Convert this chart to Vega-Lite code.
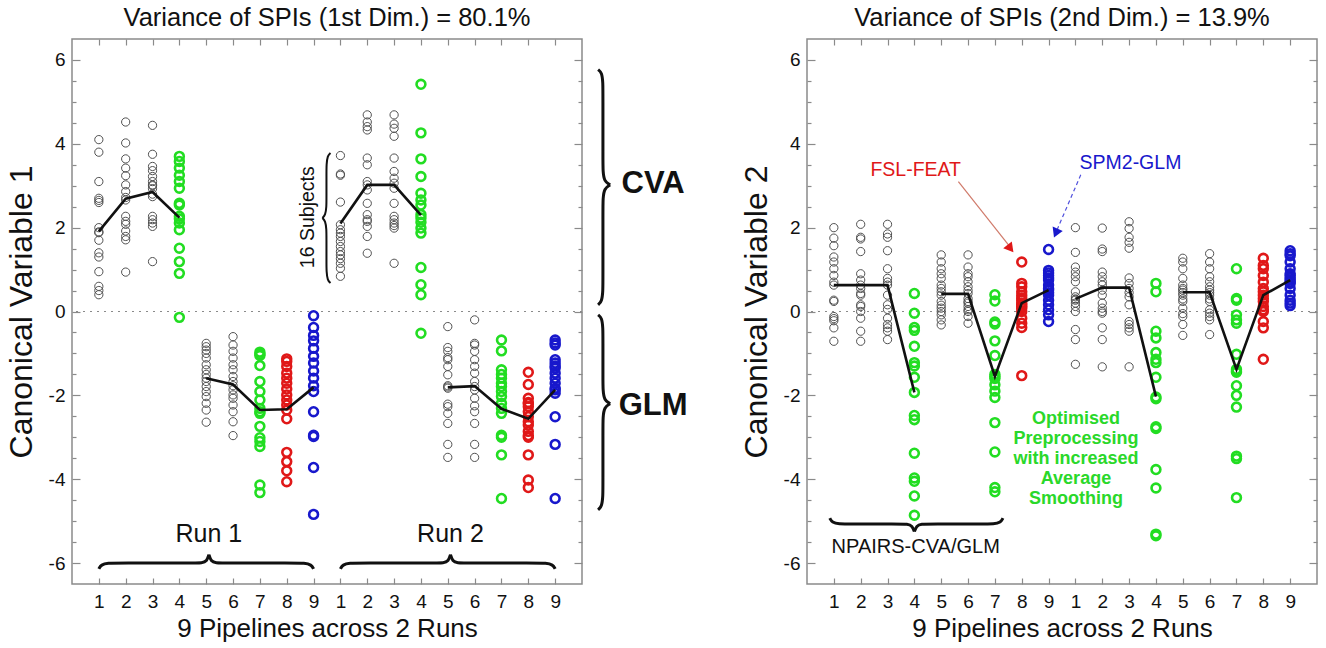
{
"$schema": "https://vega.github.io/schema/vega-lite/v6.json",
"background": "white",
"padding": {"left": 4, "right": 0, "top": 5, "bottom": 0},
"bounds": "flush",
"spacing": 225,
"config": {
  "font": "Liberation Sans",
  "view": {"stroke": "#8a8a8a", "strokeWidth": 1.5},
  "axis": {"labelFont": "Liberation Sans", "titleFont": "Liberation Sans", "labelColor": "#111", "titleColor": "#111", "tickColor": "#8a8a8a", "tickWidth": 1.2, "domain": false, "grid": false, "labelOverlap": false, "titleFontWeight": "normal"},
  "title": {"font": "Liberation Sans", "fontSize": 25.5, "fontWeight": "normal", "color": "#111", "offset": 7, "frame": "group", "anchor": "middle"}
},
"datasets": {
  "p1": [
    {"x":1,"y":4.1},{"x":1,"y":3.8},{"x":1,"y":3.1},{"x":1,"y":2.7},{"x":1,"y":2.65},{"x":1,"y":2.6},{"x":1,"y":2.0},{"x":1,"y":1.9},{"x":1,"y":1.88},{"x":1,"y":1.7},{"x":1,"y":1.4},{"x":1,"y":1.3},{"x":1,"y":0.95},{"x":1,"y":0.6},{"x":1,"y":0.5},{"x":1,"y":0.4},
    {"x":2,"y":4.52},{"x":2,"y":4.02},{"x":2,"y":3.64},{"x":2,"y":3.42},{"x":2,"y":3.24},{"x":2,"y":3.02},{"x":2,"y":2.86},{"x":2,"y":2.72},{"x":2,"y":2.66},{"x":2,"y":2.27},{"x":2,"y":2.15},{"x":2,"y":2.08},{"x":2,"y":1.92},{"x":2,"y":1.79},{"x":2,"y":1.71},{"x":2,"y":0.94},
    {"x":3,"y":4.44},{"x":3,"y":3.75},{"x":3,"y":3.46},{"x":3,"y":3.36},{"x":3,"y":3.22},{"x":3,"y":3.1},{"x":3,"y":3.02},{"x":3,"y":3.0},{"x":3,"y":2.93},{"x":3,"y":2.8},{"x":3,"y":2.74},{"x":3,"y":2.27},{"x":3,"y":2.19},{"x":3,"y":2.11},{"x":3,"y":2.03},{"x":3,"y":1.19},
    {"x":4,"y":3.7},{"x":4,"y":3.58},{"x":4,"y":3.42},{"x":4,"y":3.25},{"x":4,"y":3.1},{"x":4,"y":2.94},{"x":4,"y":2.58},{"x":4,"y":2.54},{"x":4,"y":2.27},{"x":4,"y":2.21},{"x":4,"y":2.11},{"x":4,"y":1.95},{"x":4,"y":1.51},{"x":4,"y":1.19},{"x":4,"y":0.91},{"x":4,"y":-0.14},
    {"x":5,"y":-0.76},{"x":5,"y":-0.84},{"x":5,"y":-0.92},{"x":5,"y":-1.0},{"x":5,"y":-1.11},{"x":5,"y":-1.27},{"x":5,"y":-1.39},{"x":5,"y":-1.5},{"x":5,"y":-1.59},{"x":5,"y":-1.67},{"x":5,"y":-1.79},{"x":5,"y":-1.91},{"x":5,"y":-2.03},{"x":5,"y":-2.19},{"x":5,"y":-2.35},{"x":5,"y":-2.64},
    {"x":6,"y":-0.6},{"x":6,"y":-0.8},{"x":6,"y":-0.95},{"x":6,"y":-1.11},{"x":6,"y":-1.27},{"x":6,"y":-1.39},{"x":6,"y":-1.55},{"x":6,"y":-1.67},{"x":6,"y":-1.77},{"x":6,"y":-1.87},{"x":6,"y":-1.99},{"x":6,"y":-2.07},{"x":6,"y":-2.23},{"x":6,"y":-2.39},{"x":6,"y":-2.63},{"x":6,"y":-2.96},
    {"x":7,"y":-0.97},{"x":7,"y":-1.02},{"x":7,"y":-1.29},{"x":7,"y":-1.67},{"x":7,"y":-1.91},{"x":7,"y":-2.11},{"x":7,"y":-2.31},{"x":7,"y":-2.39},{"x":7,"y":-2.43},{"x":7,"y":-2.74},{"x":7,"y":-3.01},{"x":7,"y":-3.1},{"x":7,"y":-3.22},{"x":7,"y":-4.14},{"x":7,"y":-4.32},{"x":7,"y":-1.05},
    {"x":8,"y":-1.13},{"x":8,"y":-1.19},{"x":8,"y":-1.31},{"x":8,"y":-1.47},{"x":8,"y":-1.59},{"x":8,"y":-1.71},{"x":8,"y":-1.85},{"x":8,"y":-1.99},{"x":8,"y":-2.11},{"x":8,"y":-2.23},{"x":8,"y":-2.35},{"x":8,"y":-2.56},{"x":8,"y":-3.36},{"x":8,"y":-3.58},{"x":8,"y":-3.8},{"x":8,"y":-4.06},
    {"x":9,"y":-0.1},{"x":9,"y":-0.38},{"x":9,"y":-0.57},{"x":9,"y":-0.7},{"x":9,"y":-0.88},{"x":9,"y":-1.07},{"x":9,"y":-1.23},{"x":9,"y":-1.42},{"x":9,"y":-1.59},{"x":9,"y":-1.77},{"x":9,"y":-1.91},{"x":9,"y":-2.39},{"x":9,"y":-2.95},{"x":9,"y":-2.98},{"x":9,"y":-3.72},{"x":9,"y":-4.84},
    {"x":10,"y":3.72},{"x":10,"y":3.28},{"x":10,"y":3.25},{"x":10,"y":2.61},{"x":10,"y":2.07},{"x":10,"y":1.95},{"x":10,"y":1.87},{"x":10,"y":1.79},{"x":10,"y":1.67},{"x":10,"y":1.55},{"x":10,"y":1.43},{"x":10,"y":1.35},{"x":10,"y":1.26},{"x":10,"y":1.15},{"x":10,"y":1.03},{"x":10,"y":0.84},
    {"x":11,"y":4.69},{"x":11,"y":4.52},{"x":11,"y":4.41},{"x":11,"y":4.33},{"x":11,"y":3.66},{"x":11,"y":3.5},{"x":11,"y":3.1},{"x":11,"y":3.02},{"x":11,"y":2.9},{"x":11,"y":2.58},{"x":11,"y":2.31},{"x":11,"y":2.19},{"x":11,"y":2.15},{"x":11,"y":2.03},{"x":11,"y":1.79},{"x":11,"y":1.39},
    {"x":12,"y":4.69},{"x":12,"y":4.47},{"x":12,"y":4.37},{"x":12,"y":4.18},{"x":12,"y":3.66},{"x":12,"y":3.34},{"x":12,"y":3.18},{"x":12,"y":3.06},{"x":12,"y":2.94},{"x":12,"y":2.58},{"x":12,"y":2.27},{"x":12,"y":2.19},{"x":12,"y":2.11},{"x":12,"y":2.05},{"x":12,"y":1.99},{"x":12,"y":1.15},
    {"x":13,"y":5.42},{"x":13,"y":4.26},{"x":13,"y":3.64},{"x":13,"y":3.22},{"x":13,"y":2.82},{"x":13,"y":2.66},{"x":13,"y":2.54},{"x":13,"y":2.31},{"x":13,"y":2.23},{"x":13,"y":2.13},{"x":13,"y":1.99},{"x":13,"y":1.87},{"x":13,"y":1.05},{"x":13,"y":0.64},{"x":13,"y":0.4},{"x":13,"y":-0.52},
    {"x":14,"y":-0.36},{"x":14,"y":-0.86},{"x":14,"y":-0.95},{"x":14,"y":-1.1},{"x":14,"y":-1.15},{"x":14,"y":-1.31},{"x":14,"y":-1.51},{"x":14,"y":-1.77},{"x":14,"y":-1.8},{"x":14,"y":-1.83},{"x":14,"y":-2.21},{"x":14,"y":-2.27},{"x":14,"y":-2.43},{"x":14,"y":-2.67},{"x":14,"y":-3.17},{"x":14,"y":-3.48},
    {"x":15,"y":-0.2},{"x":15,"y":-0.76},{"x":15,"y":-0.8},{"x":15,"y":-0.95},{"x":15,"y":-1.15},{"x":15,"y":-1.31},{"x":15,"y":-1.47},{"x":15,"y":-1.67},{"x":15,"y":-1.79},{"x":15,"y":-1.87},{"x":15,"y":-2.07},{"x":15,"y":-2.25},{"x":15,"y":-2.39},{"x":15,"y":-2.67},{"x":15,"y":-3.17},{"x":15,"y":-3.48},
    {"x":16,"y":-0.68},{"x":16,"y":-0.94},{"x":16,"y":-1.39},{"x":16,"y":-1.5},{"x":16,"y":-1.59},{"x":16,"y":-1.71},{"x":16,"y":-1.79},{"x":16,"y":-1.91},{"x":16,"y":-2.03},{"x":16,"y":-2.19},{"x":16,"y":-2.31},{"x":16,"y":-2.43},{"x":16,"y":-2.95},{"x":16,"y":-3.0},{"x":16,"y":-3.42},{"x":16,"y":-4.46},
    {"x":17,"y":-1.45},{"x":17,"y":-1.74},{"x":17,"y":-2.07},{"x":17,"y":-2.17},{"x":17,"y":-2.2},{"x":17,"y":-2.27},{"x":17,"y":-2.39},{"x":17,"y":-2.51},{"x":17,"y":-2.63},{"x":17,"y":-2.71},{"x":17,"y":-2.86},{"x":17,"y":-2.96},{"x":17,"y":-3.0},{"x":17,"y":-3.42},{"x":17,"y":-4.02},{"x":17,"y":-4.2},
    {"x":18,"y":-0.68},{"x":18,"y":-0.75},{"x":18,"y":-0.8},{"x":18,"y":-1.15},{"x":18,"y":-1.23},{"x":18,"y":-1.3},{"x":18,"y":-1.35},{"x":18,"y":-1.47},{"x":18,"y":-1.59},{"x":18,"y":-1.71},{"x":18,"y":-1.83},{"x":18,"y":-1.87},{"x":18,"y":-1.95},{"x":18,"y":-2.51},{"x":18,"y":-3.17},{"x":18,"y":-4.46}
  ],
  "p2": [
    {"x":1,"y":2.0},{"x":1,"y":1.75},{"x":1,"y":1.57},{"x":1,"y":1.3},{"x":1,"y":1.18},{"x":1,"y":1.02},{"x":1,"y":0.86},{"x":1,"y":0.7},{"x":1,"y":0.63},{"x":1,"y":0.27},{"x":1,"y":0.24},{"x":1,"y":-0.12},{"x":1,"y":-0.17},{"x":1,"y":-0.22},{"x":1,"y":-0.39},{"x":1,"y":-0.71},
    {"x":2,"y":2.08},{"x":2,"y":1.77},{"x":2,"y":1.73},{"x":2,"y":1.43},{"x":2,"y":0.9},{"x":2,"y":0.75},{"x":2,"y":0.63},{"x":2,"y":0.55},{"x":2,"y":0.43},{"x":2,"y":0.39},{"x":2,"y":0.16},{"x":2,"y":0.12},{"x":2,"y":0.0},{"x":2,"y":-0.16},{"x":2,"y":-0.47},{"x":2,"y":-0.71},
    {"x":3,"y":2.08},{"x":3,"y":1.85},{"x":3,"y":1.77},{"x":3,"y":1.45},{"x":3,"y":1.02},{"x":3,"y":0.79},{"x":3,"y":0.7},{"x":3,"y":0.63},{"x":3,"y":0.39},{"x":3,"y":0.16},{"x":3,"y":0.05},{"x":3,"y":-0.16},{"x":3,"y":-0.31},{"x":3,"y":-0.39},{"x":3,"y":-0.47},{"x":3,"y":-0.67},
    {"x":4,"y":0.43},{"x":4,"y":-0.04},{"x":4,"y":-0.38},{"x":4,"y":-0.45},{"x":4,"y":-0.83},{"x":4,"y":-1.22},{"x":4,"y":-1.3},{"x":4,"y":-1.57},{"x":4,"y":-1.93},{"x":4,"y":-2.48},{"x":4,"y":-2.58},{"x":4,"y":-3.38},{"x":4,"y":-3.97},{"x":4,"y":-4.05},{"x":4,"y":-4.4},{"x":4,"y":-4.86},
    {"x":5,"y":1.35},{"x":5,"y":1.18},{"x":5,"y":1.02},{"x":5,"y":0.9},{"x":5,"y":0.79},{"x":5,"y":0.63},{"x":5,"y":0.55},{"x":5,"y":0.47},{"x":5,"y":0.39},{"x":5,"y":0.24},{"x":5,"y":0.15},{"x":5,"y":0.08},{"x":5,"y":0.0},{"x":5,"y":-0.08},{"x":5,"y":-0.2},{"x":5,"y":-0.32},
    {"x":6,"y":1.35},{"x":6,"y":1.06},{"x":6,"y":0.9},{"x":6,"y":0.83},{"x":6,"y":0.71},{"x":6,"y":0.59},{"x":6,"y":0.5},{"x":6,"y":0.43},{"x":6,"y":0.31},{"x":6,"y":0.24},{"x":6,"y":0.2},{"x":6,"y":0.12},{"x":6,"y":0.04},{"x":6,"y":0.0},{"x":6,"y":-0.12},{"x":6,"y":-0.28},
    {"x":7,"y":0.4},{"x":7,"y":0.25},{"x":7,"y":-0.25},{"x":7,"y":-0.3},{"x":7,"y":-0.7},{"x":7,"y":-1.05},{"x":7,"y":-1.5},{"x":7,"y":-1.55},{"x":7,"y":-1.6},{"x":7,"y":-1.75},{"x":7,"y":-1.9},{"x":7,"y":-2.05},{"x":7,"y":-2.65},{"x":7,"y":-3.35},{"x":7,"y":-4.2},{"x":7,"y":-4.3},
    {"x":8,"y":1.18},{"x":8,"y":0.67},{"x":8,"y":0.59},{"x":8,"y":0.47},{"x":8,"y":0.39},{"x":8,"y":0.32},{"x":8,"y":0.27},{"x":8,"y":0.2},{"x":8,"y":0.16},{"x":8,"y":0.12},{"x":8,"y":0.08},{"x":8,"y":0.0},{"x":8,"y":-0.16},{"x":8,"y":-0.28},{"x":8,"y":-0.38},{"x":8,"y":-1.53},
    {"x":9,"y":1.48},{"x":9,"y":0.98},{"x":9,"y":0.92},{"x":9,"y":0.86},{"x":9,"y":0.8},{"x":9,"y":0.75},{"x":9,"y":0.63},{"x":9,"y":0.55},{"x":9,"y":0.51},{"x":9,"y":0.45},{"x":9,"y":0.39},{"x":9,"y":0.27},{"x":9,"y":0.16},{"x":9,"y":0.04},{"x":9,"y":-0.08},{"x":9,"y":-0.24},
    {"x":10,"y":2.0},{"x":10,"y":1.41},{"x":10,"y":1.06},{"x":10,"y":0.94},{"x":10,"y":0.83},{"x":10,"y":0.71},{"x":10,"y":0.47},{"x":10,"y":0.35},{"x":10,"y":0.3},{"x":10,"y":0.27},{"x":10,"y":0.2},{"x":10,"y":0.12},{"x":10,"y":0.0},{"x":10,"y":-0.43},{"x":10,"y":-0.67},{"x":10,"y":-1.26},
    {"x":11,"y":1.99},{"x":11,"y":1.49},{"x":11,"y":1.43},{"x":11,"y":0.94},{"x":11,"y":0.83},{"x":11,"y":0.71},{"x":11,"y":0.63},{"x":11,"y":0.51},{"x":11,"y":0.39},{"x":11,"y":0.2},{"x":11,"y":0.08},{"x":11,"y":0.0},{"x":11,"y":-0.04},{"x":11,"y":-0.39},{"x":11,"y":-0.67},{"x":11,"y":-1.32},
    {"x":12,"y":2.14},{"x":12,"y":1.98},{"x":12,"y":1.77},{"x":12,"y":1.65},{"x":12,"y":1.51},{"x":12,"y":0.8},{"x":12,"y":0.67},{"x":12,"y":0.55},{"x":12,"y":0.45},{"x":12,"y":0.35},{"x":12,"y":0.16},{"x":12,"y":-0.24},{"x":12,"y":-0.31},{"x":12,"y":-0.39},{"x":12,"y":-0.47},{"x":12,"y":-1.32},
    {"x":13,"y":0.67},{"x":13,"y":0.47},{"x":13,"y":-0.47},{"x":13,"y":-0.63},{"x":13,"y":-0.98},{"x":13,"y":-1.14},{"x":13,"y":-1.22},{"x":13,"y":-1.57},{"x":13,"y":-2.04},{"x":13,"y":-2.08},{"x":13,"y":-2.75},{"x":13,"y":-2.79},{"x":13,"y":-3.77},{"x":13,"y":-4.21},{"x":13,"y":-5.31},{"x":13,"y":-5.35},
    {"x":14,"y":1.27},{"x":14,"y":1.18},{"x":14,"y":1.02},{"x":14,"y":0.79},{"x":14,"y":0.63},{"x":14,"y":0.55},{"x":14,"y":0.51},{"x":14,"y":0.45},{"x":14,"y":0.39},{"x":14,"y":0.3},{"x":14,"y":0.24},{"x":14,"y":0.08},{"x":14,"y":-0.05},{"x":14,"y":-0.12},{"x":14,"y":-0.31},{"x":14,"y":-0.57},
    {"x":15,"y":1.38},{"x":15,"y":1.18},{"x":15,"y":1.02},{"x":15,"y":0.83},{"x":15,"y":0.71},{"x":15,"y":0.59},{"x":15,"y":0.51},{"x":15,"y":0.45},{"x":15,"y":0.39},{"x":15,"y":0.3},{"x":15,"y":0.24},{"x":15,"y":0.04},{"x":15,"y":-0.04},{"x":15,"y":-0.12},{"x":15,"y":-0.2},{"x":15,"y":-0.55},
    {"x":16,"y":1.02},{"x":16,"y":0.31},{"x":16,"y":0.27},{"x":16,"y":-0.08},{"x":16,"y":-0.2},{"x":16,"y":-0.28},{"x":16,"y":-1.02},{"x":16,"y":-1.38},{"x":16,"y":-1.42},{"x":16,"y":-1.45},{"x":16,"y":-1.77},{"x":16,"y":-2.0},{"x":16,"y":-2.28},{"x":16,"y":-3.45},{"x":16,"y":-3.51},{"x":16,"y":-4.44},
    {"x":17,"y":1.27},{"x":17,"y":1.1},{"x":17,"y":1.02},{"x":17,"y":0.86},{"x":17,"y":0.7},{"x":17,"y":0.55},{"x":17,"y":0.47},{"x":17,"y":0.39},{"x":17,"y":0.31},{"x":17,"y":0.24},{"x":17,"y":0.12},{"x":17,"y":0.04},{"x":17,"y":0.0},{"x":17,"y":-0.24},{"x":17,"y":-0.39},{"x":17,"y":-1.14},
    {"x":18,"y":1.45},{"x":18,"y":1.38},{"x":18,"y":1.33},{"x":18,"y":1.18},{"x":18,"y":1.02},{"x":18,"y":0.9},{"x":18,"y":0.86},{"x":18,"y":0.8},{"x":18,"y":0.75},{"x":18,"y":0.7},{"x":18,"y":0.67},{"x":18,"y":0.55},{"x":18,"y":0.39},{"x":18,"y":0.27},{"x":18,"y":0.2},{"x":18,"y":0.14}
  ],
  "m1": [
    {"x":1,"y":1.91,"g":1},{"x":2,"y":2.69,"g":1},{"x":3,"y":2.85,"g":1},{"x":4,"y":2.24,"g":1},
    {"x":5,"y":-1.59,"g":2},{"x":6,"y":-1.74,"g":2},{"x":7,"y":-2.35,"g":2},{"x":8,"y":-2.33,"g":2},{"x":9,"y":-1.81,"g":2},
    {"x":10,"y":2.1,"g":3},{"x":11,"y":3.02,"g":3},{"x":12,"y":3.02,"g":3},{"x":13,"y":2.3,"g":3},
    {"x":14,"y":-1.81,"g":4},{"x":15,"y":-1.78,"g":4},{"x":16,"y":-2.32,"g":4},{"x":17,"y":-2.56,"g":4},{"x":18,"y":-1.87,"g":4}
  ],
  "m2": [
    {"x":1,"y":0.63,"g":1},{"x":2,"y":0.63,"g":1},{"x":3,"y":0.63,"g":1},{"x":4,"y":-1.93,"g":1},
    {"x":5,"y":0.42,"g":2},{"x":6,"y":0.42,"g":2},{"x":7,"y":-1.55,"g":2},{"x":8,"y":0.2,"g":2},{"x":9,"y":0.51,"g":2},
    {"x":10,"y":0.3,"g":3},{"x":11,"y":0.57,"g":3},{"x":12,"y":0.57,"g":3},{"x":13,"y":-2.03,"g":3},
    {"x":14,"y":0.46,"g":4},{"x":15,"y":0.46,"g":4},{"x":16,"y":-1.38,"g":4},{"x":17,"y":0.39,"g":4},{"x":18,"y":0.75,"g":4}
  ]
},
"hconcat": [
{
  "width": 510, "height": 545,
  "title": {"text": "Variance of SPIs (1st Dim.) = 80.1%"},
  "resolve": {"axis": {"x": "independent", "y": "independent"}},
  "layer": [
    {"data": {"values": [{"y": 0}]}, "mark": {"type": "rule", "color": "#8a8a8a", "strokeDash": [2, 5], "strokeWidth": 1.2},
     "encoding": {"y": {"field": "y", "type": "quantitative", "scale": {"domain": [-6.5, 6.5], "nice": false, "zero": false}, "axis": null}}},
    {"data": {"name": "p1"}, "transform": [{"filter": {"not": {"field": "x", "oneOf": [4,7,8,9,13,16,17,18]}}}],
     "mark": {"type": "point", "shape": "circle", "filled": false, "size": 68, "strokeWidth": 1, "color": "#505050", "opacity": 1},
     "encoding": {
       "x": {"field": "x", "type": "quantitative", "scale": {"domain": [0, 19], "nice": false, "zero": false},
             "axis": {"orient": "bottom", "values": [1,2,3,4,5,6,7,8,9,10,11,12,13,14,15,16,17,18], "labelExpr": "datum.value > 9 ? '' + (datum.value - 9) : '' + datum.value", "title": "9 Pipelines across 2 Runs", "titleFontSize": 26, "labelFontSize": 19, "tickSize": -6, "labelPadding": 14, "titlePadding": 4}},
       "y": {"field": "y", "type": "quantitative", "scale": {"domain": [-6.5, 6.5], "nice": false, "zero": false},
             "axis": {"orient": "left", "values": [-6,-5.5,-5,-4.5,-4,-3.5,-3,-2.5,-2,-1.5,-1,-0.5,0,0.5,1,1.5,2,2.5,3,3.5,4,4.5,5,5.5,6], "labelExpr": "datum.value % 2 == 0 ? '' + datum.value : ''", "tickSize": {"condition": {"test": "datum.value % 2 == 0", "value": -8}, "value": -4}, "title": "Canonical Variable 1", "titleFontSize": 32, "labelFontSize": 19, "labelPadding": 15, "titlePadding": 10}}
     }},
    {"data": {"name": "p1"}, "transform": [{"filter": {"field": "x", "oneOf": [4,7,8,9,13,16,17,18]}}],
     "mark": {"type": "point", "shape": "circle", "filled": false, "size": 78, "strokeWidth": 2.6, "opacity": 1},
     "encoding": {
       "x": {"field": "x", "type": "quantitative", "scale": {"domain": [0, 19], "nice": false, "zero": false}, "axis": null},
       "y": {"field": "y", "type": "quantitative", "scale": {"domain": [-6.5, 6.5], "nice": false, "zero": false}, "axis": null},
       "color": {"field": "x", "type": "nominal", "scale": {"domain": [4,7,8,9,13,16,17,18], "range": ["#22dd22","#22dd22","#e01818","#1818cc","#22dd22","#22dd22","#e01818","#1818cc"]}, "legend": null}
     }},
    {"data": {"name": "m1"}, "mark": {"type": "line", "color": "#111", "strokeWidth": 2.6},
     "encoding": {
       "x": {"field": "x", "type": "quantitative", "scale": {"domain": [0, 19], "nice": false, "zero": false},
             "axis": {"orient": "top", "values": [1,2,3,4,5,6,7,8,9,10,11,12,13,14,15,16,17,18], "labels": false, "title": null, "tickSize": -6}},
       "y": {"field": "y", "type": "quantitative", "scale": {"domain": [-6.5, 6.5], "nice": false, "zero": false},
             "axis": {"orient": "right", "values": [-6,-5.5,-5,-4.5,-4,-3.5,-3,-2.5,-2,-1.5,-1,-0.5,0,0.5,1,1.5,2,2.5,3,3.5,4,4.5,5,5.5,6], "labels": false, "title": null, "tickSize": {"condition": {"test": "datum.value % 2 == 0", "value": -8}, "value": -4}}},
       "detail": {"field": "g", "type": "nominal"}
     }},
    {"data": {"values": [
       {"b":"r1a","o":1,"x":1.0,"y":-6.14},{"b":"r1a","o":2,"x":1.08,"y":-6.04},{"b":"r1a","o":3,"x":1.35,"y":-6.0},{"b":"r1a","o":4,"x":1.7,"y":-6.0},{"b":"r1a","o":5,"x":4.5,"y":-6.0},{"b":"r1a","o":6,"x":4.85,"y":-6.0},{"b":"r1a","o":7,"x":5.02,"y":-5.96},{"b":"r1a","o":8,"x":5.1,"y":-5.8},
       {"b":"r1b","o":1,"x":5.1,"y":-5.8},{"b":"r1b","o":2,"x":5.18,"y":-5.96},{"b":"r1b","o":3,"x":5.35,"y":-6.0},{"b":"r1b","o":4,"x":5.7,"y":-6.0},{"b":"r1b","o":5,"x":8.3,"y":-6.0},{"b":"r1b","o":6,"x":8.65,"y":-6.0},{"b":"r1b","o":7,"x":8.92,"y":-6.04},{"b":"r1b","o":8,"x":9.0,"y":-6.14},
       {"b":"r2a","o":1,"x":10.0,"y":-6.14},{"b":"r2a","o":2,"x":10.08,"y":-6.04},{"b":"r2a","o":3,"x":10.35,"y":-6.0},{"b":"r2a","o":4,"x":10.7,"y":-6.0},{"b":"r2a","o":5,"x":13.5,"y":-6.0},{"b":"r2a","o":6,"x":13.85,"y":-6.0},{"b":"r2a","o":7,"x":14.02,"y":-5.96},{"b":"r2a","o":8,"x":14.1,"y":-5.8},
       {"b":"r2b","o":1,"x":14.1,"y":-5.8},{"b":"r2b","o":2,"x":14.18,"y":-5.96},{"b":"r2b","o":3,"x":14.35,"y":-6.0},{"b":"r2b","o":4,"x":14.7,"y":-6.0},{"b":"r2b","o":5,"x":17.3,"y":-6.0},{"b":"r2b","o":6,"x":17.65,"y":-6.0},{"b":"r2b","o":7,"x":17.92,"y":-6.04},{"b":"r2b","o":8,"x":18.0,"y":-6.14},
       {"b":"ca","o":1,"x":19.6,"y":5.77},{"b":"ca","o":2,"x":19.74,"y":5.7},{"b":"ca","o":3,"x":19.78,"y":5.45},{"b":"ca","o":4,"x":19.78,"y":5.2},{"b":"ca","o":5,"x":19.78,"y":3.6},{"b":"ca","o":6,"x":19.78,"y":3.35},{"b":"ca","o":7,"x":19.83,"y":3.1},{"b":"ca","o":8,"x":20.05,"y":3.02},
       {"b":"cb","o":1,"x":20.05,"y":3.02},{"b":"cb","o":2,"x":19.83,"y":2.94},{"b":"cb","o":3,"x":19.78,"y":2.69},{"b":"cb","o":4,"x":19.78,"y":2.44},{"b":"cb","o":5,"x":19.78,"y":0.75},{"b":"cb","o":6,"x":19.78,"y":0.5},{"b":"cb","o":7,"x":19.74,"y":0.24},{"b":"cb","o":8,"x":19.6,"y":0.16},
       {"b":"ga","o":1,"x":19.6,"y":-0.08},{"b":"ga","o":2,"x":19.74,"y":-0.15},{"b":"ga","o":3,"x":19.78,"y":-0.4},{"b":"ga","o":4,"x":19.78,"y":-0.65},{"b":"ga","o":5,"x":19.78,"y":-1.62},{"b":"ga","o":6,"x":19.78,"y":-1.87},{"b":"ga","o":7,"x":19.83,"y":-2.12},{"b":"ga","o":8,"x":20.05,"y":-2.2},
       {"b":"gb","o":1,"x":20.05,"y":-2.2},{"b":"gb","o":2,"x":19.83,"y":-2.28},{"b":"gb","o":3,"x":19.78,"y":-2.53},{"b":"gb","o":4,"x":19.78,"y":-2.78},{"b":"gb","o":5,"x":19.78,"y":-4.14},{"b":"gb","o":6,"x":19.78,"y":-4.39},{"b":"gb","o":7,"x":19.74,"y":-4.65},{"b":"gb","o":8,"x":19.6,"y":-4.73}
     ]},
     "mark": {"type": "line", "interpolate": "basis", "color": "#111", "strokeWidth": 3},
     "encoding": {
       "x": {"field": "x", "type": "quantitative", "scale": {"domain": [0, 19], "nice": false, "zero": false}, "axis": null},
       "y": {"field": "y", "type": "quantitative", "scale": {"domain": [-6.5, 6.5], "nice": false, "zero": false}, "axis": null},
       "detail": {"field": "b", "type": "nominal"},
       "order": {"field": "o", "type": "quantitative"}
     }},
    {"data": {"values": [
       {"b":"sa","o":1,"x":9.63,"y":3.78},{"b":"sa","o":2,"x":9.52,"y":3.72},{"b":"sa","o":3,"x":9.48,"y":3.5},{"b":"sa","o":4,"x":9.48,"y":3.3},{"b":"sa","o":5,"x":9.48,"y":2.7},{"b":"sa","o":6,"x":9.48,"y":2.5},{"b":"sa","o":7,"x":9.44,"y":2.3},{"b":"sa","o":8,"x":9.33,"y":2.23},
       {"b":"sb","o":1,"x":9.33,"y":2.23},{"b":"sb","o":2,"x":9.44,"y":2.16},{"b":"sb","o":3,"x":9.48,"y":1.96},{"b":"sb","o":4,"x":9.48,"y":1.76},{"b":"sb","o":5,"x":9.48,"y":1.16},{"b":"sb","o":6,"x":9.48,"y":0.96},{"b":"sb","o":7,"x":9.52,"y":0.74},{"b":"sb","o":8,"x":9.63,"y":0.68}
     ]},
     "mark": {"type": "line", "interpolate": "basis", "color": "#111", "strokeWidth": 2},
     "encoding": {
       "x": {"field": "x", "type": "quantitative", "scale": {"domain": [0, 19], "nice": false, "zero": false}, "axis": null},
       "y": {"field": "y", "type": "quantitative", "scale": {"domain": [-6.5, 6.5], "nice": false, "zero": false}, "axis": null},
       "detail": {"field": "b", "type": "nominal"},
       "order": {"field": "o", "type": "quantitative"}
     }},
    {"data": {"values": [{"x": 5.1, "y": -5.3, "t": "Run 1"}, {"x": 14.1, "y": -5.3, "t": "Run 2"}]},
     "mark": {"type": "text", "font": "Liberation Sans", "fontSize": 25, "color": "#111", "align": "center", "baseline": "middle"},
     "encoding": {
       "x": {"field": "x", "type": "quantitative", "scale": {"domain": [0, 19], "nice": false, "zero": false}, "axis": null},
       "y": {"field": "y", "type": "quantitative", "scale": {"domain": [-6.5, 6.5], "nice": false, "zero": false}, "axis": null},
       "text": {"field": "t"}
     }},
    {"data": {"values": [{"x": 8.8, "y": 2.25, "t": "16 Subjects"}]},
     "mark": {"type": "text", "font": "Liberation Sans", "fontSize": 19.5, "color": "#111", "align": "center", "baseline": "middle", "angle": 270},
     "encoding": {
       "x": {"field": "x", "type": "quantitative", "scale": {"domain": [0, 19], "nice": false, "zero": false}, "axis": null},
       "y": {"field": "y", "type": "quantitative", "scale": {"domain": [-6.5, 6.5], "nice": false, "zero": false}, "axis": null},
       "text": {"field": "t"}
     }},
    {"data": {"values": [{"x": 21.65, "y": 3.05, "t": "CVA"}, {"x": 21.65, "y": -2.25, "t": "GLM"}]},
     "mark": {"type": "text", "font": "Liberation Sans", "fontSize": 31, "fontWeight": "bold", "color": "#111", "align": "center", "baseline": "middle"},
     "encoding": {
       "x": {"field": "x", "type": "quantitative", "scale": {"domain": [0, 19], "nice": false, "zero": false}, "axis": null},
       "y": {"field": "y", "type": "quantitative", "scale": {"domain": [-6.5, 6.5], "nice": false, "zero": false}, "axis": null},
       "text": {"field": "t"}
     }}
  ]
},
{
  "width": 510, "height": 545,
  "title": {"text": "Variance of SPIs (2nd Dim.) = 13.9%"},
  "resolve": {"axis": {"x": "independent", "y": "independent"}},
  "layer": [
    {"data": {"values": [{"y": 0}]}, "mark": {"type": "rule", "color": "#8a8a8a", "strokeDash": [2, 5], "strokeWidth": 1.2},
     "encoding": {"y": {"field": "y", "type": "quantitative", "scale": {"domain": [-6.5, 6.5], "nice": false, "zero": false}, "axis": null}}},
    {"data": {"name": "p2"}, "transform": [{"filter": {"not": {"field": "x", "oneOf": [4,7,8,9,13,16,17,18]}}}],
     "mark": {"type": "point", "shape": "circle", "filled": false, "size": 68, "strokeWidth": 1, "color": "#505050", "opacity": 1},
     "encoding": {
       "x": {"field": "x", "type": "quantitative", "scale": {"domain": [0, 19], "nice": false, "zero": false},
             "axis": {"orient": "bottom", "values": [1,2,3,4,5,6,7,8,9,10,11,12,13,14,15,16,17,18], "labelExpr": "datum.value > 9 ? '' + (datum.value - 9) : '' + datum.value", "title": "9 Pipelines across 2 Runs", "titleFontSize": 26, "labelFontSize": 19, "tickSize": -6, "labelPadding": 14, "titlePadding": 4}},
       "y": {"field": "y", "type": "quantitative", "scale": {"domain": [-6.5, 6.5], "nice": false, "zero": false},
             "axis": {"orient": "left", "values": [-6,-5.5,-5,-4.5,-4,-3.5,-3,-2.5,-2,-1.5,-1,-0.5,0,0.5,1,1.5,2,2.5,3,3.5,4,4.5,5,5.5,6], "labelExpr": "datum.value % 2 == 0 ? '' + datum.value : ''", "tickSize": {"condition": {"test": "datum.value % 2 == 0", "value": -8}, "value": -4}, "title": "Canonical Variable 2", "titleFontSize": 32, "labelFontSize": 19, "labelPadding": 15, "titlePadding": 10}}
     }},
    {"data": {"name": "p2"}, "transform": [{"filter": {"field": "x", "oneOf": [4,7,8,9,13,16,17,18]}}],
     "mark": {"type": "point", "shape": "circle", "filled": false, "size": 78, "strokeWidth": 2.6, "opacity": 1},
     "encoding": {
       "x": {"field": "x", "type": "quantitative", "scale": {"domain": [0, 19], "nice": false, "zero": false}, "axis": null},
       "y": {"field": "y", "type": "quantitative", "scale": {"domain": [-6.5, 6.5], "nice": false, "zero": false}, "axis": null},
       "color": {"field": "x", "type": "nominal", "scale": {"domain": [4,7,8,9,13,16,17,18], "range": ["#22dd22","#22dd22","#e01818","#1818cc","#22dd22","#22dd22","#e01818","#1818cc"]}, "legend": null}
     }},
    {"data": {"name": "m2"}, "mark": {"type": "line", "color": "#111", "strokeWidth": 2.6},
     "encoding": {
       "x": {"field": "x", "type": "quantitative", "scale": {"domain": [0, 19], "nice": false, "zero": false},
             "axis": {"orient": "top", "values": [1,2,3,4,5,6,7,8,9,10,11,12,13,14,15,16,17,18], "labels": false, "title": null, "tickSize": -6}},
       "y": {"field": "y", "type": "quantitative", "scale": {"domain": [-6.5, 6.5], "nice": false, "zero": false},
             "axis": {"orient": "right", "values": [-6,-5.5,-5,-4.5,-4,-3.5,-3,-2.5,-2,-1.5,-1,-0.5,0,0.5,1,1.5,2,2.5,3,3.5,4,4.5,5,5.5,6], "labels": false, "title": null, "tickSize": {"condition": {"test": "datum.value % 2 == 0", "value": -8}, "value": -4}}},
       "detail": {"field": "g", "type": "nominal"}
     }},
    {"data": {"values": [
       {"b":"na","o":1,"x":0.85,"y":-4.93},{"b":"na","o":2,"x":0.93,"y":-5.03},{"b":"na","o":3,"x":1.2,"y":-5.07},{"b":"na","o":4,"x":1.55,"y":-5.07},{"b":"na","o":5,"x":3.4,"y":-5.07},{"b":"na","o":6,"x":3.75,"y":-5.07},{"b":"na","o":7,"x":3.92,"y":-5.11},{"b":"na","o":8,"x":4.0,"y":-5.25},
       {"b":"nb","o":1,"x":4.0,"y":-5.25},{"b":"nb","o":2,"x":4.08,"y":-5.11},{"b":"nb","o":3,"x":4.25,"y":-5.07},{"b":"nb","o":4,"x":4.6,"y":-5.07},{"b":"nb","o":5,"x":6.6,"y":-5.07},{"b":"nb","o":6,"x":6.95,"y":-5.07},{"b":"nb","o":7,"x":7.22,"y":-5.03},{"b":"nb","o":8,"x":7.3,"y":-4.93}
     ]},
     "mark": {"type": "line", "interpolate": "basis", "color": "#111", "strokeWidth": 3},
     "encoding": {
       "x": {"field": "x", "type": "quantitative", "scale": {"domain": [0, 19], "nice": false, "zero": false}, "axis": null},
       "y": {"field": "y", "type": "quantitative", "scale": {"domain": [-6.5, 6.5], "nice": false, "zero": false}, "axis": null},
       "detail": {"field": "b", "type": "nominal"},
       "order": {"field": "o", "type": "quantitative"}
     }},
    {"data": {"values": [{"o": 1, "x": 5.64, "y": 3.1}, {"o": 2, "x": 7.52, "y": 1.58}]},
     "mark": {"type": "line", "color": "#d07a6a", "strokeWidth": 1.2},
     "encoding": {
       "x": {"field": "x", "type": "quantitative", "scale": {"domain": [0, 19], "nice": false, "zero": false}, "axis": null},
       "y": {"field": "y", "type": "quantitative", "scale": {"domain": [-6.5, 6.5], "nice": false, "zero": false}, "axis": null},
       "order": {"field": "o", "type": "quantitative"}
     }},
    {"data": {"values": [{"o": 1, "x": 10.2, "y": 3.26}, {"o": 2, "x": 9.33, "y": 1.97}]},
     "mark": {"type": "line", "color": "#5050dd", "strokeWidth": 1.2, "strokeDash": [4, 3]},
     "encoding": {
       "x": {"field": "x", "type": "quantitative", "scale": {"domain": [0, 19], "nice": false, "zero": false}, "axis": null},
       "y": {"field": "y", "type": "quantitative", "scale": {"domain": [-6.5, 6.5], "nice": false, "zero": false}, "axis": null},
       "order": {"field": "o", "type": "quantitative"}
     }},
    {"data": {"values": [{"x": 7.58, "y": 1.5}]},
     "mark": {"type": "point", "shape": "triangle-up", "filled": true, "size": 120, "color": "#e01818", "opacity": 1, "angle": 141.5},
     "encoding": {
       "x": {"field": "x", "type": "quantitative", "scale": {"domain": [0, 19], "nice": false, "zero": false}, "axis": null},
       "y": {"field": "y", "type": "quantitative", "scale": {"domain": [-6.5, 6.5], "nice": false, "zero": false}, "axis": null}
     }},
    {"data": {"values": [{"x": 9.27, "y": 1.87}]},
     "mark": {"type": "point", "shape": "triangle-up", "filled": true, "size": 120, "color": "#1818cc", "opacity": 1, "angle": 203},
     "encoding": {
       "x": {"field": "x", "type": "quantitative", "scale": {"domain": [0, 19], "nice": false, "zero": false}, "axis": null},
       "y": {"field": "y", "type": "quantitative", "scale": {"domain": [-6.5, 6.5], "nice": false, "zero": false}, "axis": null}
     }},
    {"data": {"values": [{"x": 4.05, "y": 3.38, "t": "FSL-FEAT"}]},
     "mark": {"type": "text", "font": "Liberation Sans", "fontSize": 19.5, "color": "#e01818", "align": "center", "baseline": "middle"},
     "encoding": {
       "x": {"field": "x", "type": "quantitative", "scale": {"domain": [0, 19], "nice": false, "zero": false}, "axis": null},
       "y": {"field": "y", "type": "quantitative", "scale": {"domain": [-6.5, 6.5], "nice": false, "zero": false}, "axis": null},
       "text": {"field": "t"}
     }},
    {"data": {"values": [{"x": 12.05, "y": 3.54, "t": "SPM2-GLM"}]},
     "mark": {"type": "text", "font": "Liberation Sans", "fontSize": 19.5, "color": "#1818cc", "align": "center", "baseline": "middle"},
     "encoding": {
       "x": {"field": "x", "type": "quantitative", "scale": {"domain": [0, 19], "nice": false, "zero": false}, "axis": null},
       "y": {"field": "y", "type": "quantitative", "scale": {"domain": [-6.5, 6.5], "nice": false, "zero": false}, "axis": null},
       "text": {"field": "t"}
     }},
    {"data": {"values": [{"x": 4.05, "y": -5.62, "t": "NPAIRS-CVA/GLM"}]},
     "mark": {"type": "text", "font": "Liberation Sans", "fontSize": 20, "color": "#111", "align": "center", "baseline": "middle"},
     "encoding": {
       "x": {"field": "x", "type": "quantitative", "scale": {"domain": [0, 19], "nice": false, "zero": false}, "axis": null},
       "y": {"field": "y", "type": "quantitative", "scale": {"domain": [-6.5, 6.5], "nice": false, "zero": false}, "axis": null},
       "text": {"field": "t"}
     }},
    {"data": {"values": [{"x": 10.02, "y": -2.56, "t": "Optimised\nPreprocessing\nwith increased\nAverage\nSmoothing"}]},
     "mark": {"type": "text", "font": "Liberation Sans", "fontSize": 18, "fontWeight": "bold", "color": "#2ad82a", "align": "center", "baseline": "middle", "lineBreak": "\n", "lineHeight": 20},
     "encoding": {
       "x": {"field": "x", "type": "quantitative", "scale": {"domain": [0, 19], "nice": false, "zero": false}, "axis": null},
       "y": {"field": "y", "type": "quantitative", "scale": {"domain": [-6.5, 6.5], "nice": false, "zero": false}, "axis": null},
       "text": {"field": "t"}
     }}
  ]
}
]
}
